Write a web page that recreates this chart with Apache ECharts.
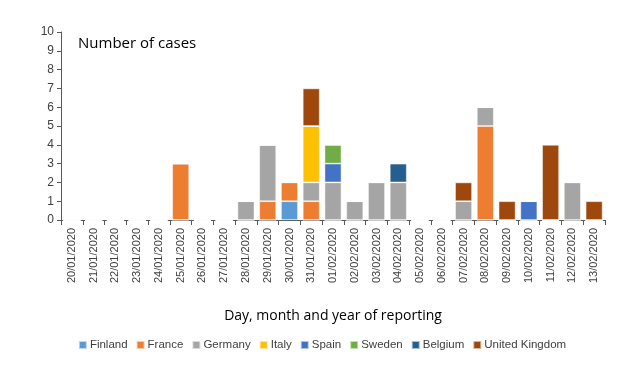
<!DOCTYPE html>
<html><head><meta charset="utf-8">
<script src="https://cdn.jsdelivr.net/npm/echarts@6/dist/echarts.min.js"></script>
<style>html,body{margin:0;padding:0;background:#fff}#c{width:644px;height:367px}</style>
</head><body><div id="c"></div>
<script>
const dates = ['20/01/2020','21/01/2020','22/01/2020','23/01/2020','24/01/2020','25/01/2020','26/01/2020','27/01/2020','28/01/2020','29/01/2020','30/01/2020','31/01/2020','01/02/2020','02/02/2020','03/02/2020','04/02/2020','05/02/2020','06/02/2020','07/02/2020','08/02/2020','09/02/2020','10/02/2020','11/02/2020','12/02/2020','13/02/2020'];
const finland = [0,0,0,0,0,0,0,0,0,0,1,0,0,0,0,0,0,0,0,0,0,0,0,0,0];
const france  = [0,0,0,0,0,3,0,0,0,1,1,1,0,0,0,0,0,0,0,5,0,0,0,0,0];
const germany = [0,0,0,0,0,0,0,0,1,3,0,1,2,1,2,2,0,0,1,1,0,0,0,2,0];
const italy   = [0,0,0,0,0,0,0,0,0,0,0,3,0,0,0,0,0,0,0,0,0,0,0,0,0];
const spain   = [0,0,0,0,0,0,0,0,0,0,0,0,1,0,0,0,0,0,0,0,0,1,0,0,0];
const sweden  = [0,0,0,0,0,0,0,0,0,0,0,0,1,0,0,0,0,0,0,0,0,0,0,0,0];
const belgium = [0,0,0,0,0,0,0,0,0,0,0,0,0,0,0,1,0,0,0,0,0,0,0,0,0];
const uk      = [0,0,0,0,0,0,0,0,0,0,0,2,0,0,0,0,0,0,1,0,1,0,4,0,1];
const yTicks = [0,1,2,3,4,5,6,7,8,9,10];

const seriesDefs = [
  ['Finland', finland, '#5B9BD5'],
  ['France', france, '#ED7D31'],
  ['Germany', germany, '#A5A5A5'],
  ['Italy', italy, '#FFC000'],
  ['Spain', spain, '#4472C4'],
  ['Sweden', sweden, '#70AD47'],
  ['Belgium', belgium, '#255E91'],
  ['United Kingdom', uk, '#9E480E']
];
const chart = echarts.init(document.getElementById('c'));
chart.setOption({
  animation: false,
  textStyle: {fontFamily: 'Liberation Sans, Arial, sans-serif'},
  graphic: [{type:'text', left: 78, top: 36, style:{text:'Number of cases', fontSize: 15, fill:'#000', fontFamily:'Open Sans, sans-serif'}}],
  grid: {left: 61, right: 39, top: 32, bottom: 147, containLabel: false},
  legend: {
    bottom: 11, left: 'center', itemWidth: 8, itemHeight: 8, itemGap: 8,
    icon: 'rect',
    textStyle: {fontSize: 11.5, color: '#404040', padding:[0,0,0,-2]},
    data: seriesDefs.map(s => s[0])
  },
  xAxis: {
    type: 'category', data: dates,
    name: 'Day, month and year of reporting', nameLocation: 'middle', nameGap: 89,
    nameTextStyle: {fontSize: 14, color: '#000', fontFamily:'Open Sans, sans-serif'},
    axisLine: {lineStyle: {color: '#595959'}},
    axisTick: {show: true, alignWithLabel: false, length: 5, lineStyle: {color:'#595959'}},
    axisLabel: {rotate: 90, fontSize: 11, color: '#404040', margin: 8, interval: 0}
  },
  yAxis: {
    type: 'value', min: 0, max: 10, interval: 1,
    axisLine: {show: true, lineStyle: {color: '#595959'}},
    axisTick: {show: true, length: 4, inside: false, lineStyle: {color:'#595959'}},
    splitLine: {show: false},
    axisLabel: {fontSize: 12, color: '#404040', margin: 7}
  },
  series: seriesDefs.map(s => ({
    name: s[0], type: 'bar', stack: 'total', data: s[1],
    barCategoryGap: '22%',
    itemStyle: {color: s[2], borderColor: 'rgba(255,255,255,0.6)', borderWidth: 0.8},
    emphasis: {disabled: true}
  }))
});
</script></body></html>
